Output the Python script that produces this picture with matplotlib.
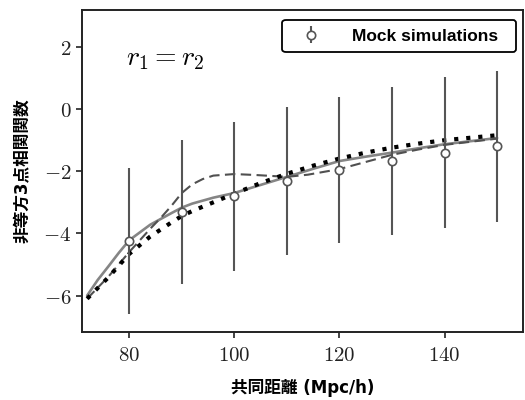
import matplotlib
matplotlib.use("Agg")
import matplotlib.pyplot as plt
from matplotlib.ticker import FuncFormatter, FixedLocator

plt.rcParams['mathtext.fontset'] = 'cm'

# Mock simulation data points
mock_x = [80, 90, 100, 110, 120, 130, 140, 150]
mock_y = [-4.24, -3.31, -2.80, -2.31, -1.96, -1.66, -1.40, -1.20]
mock_err = [2.34, 2.33, 2.40, 2.39, 2.35, 2.38, 2.42, 2.43]

# Model curves
curve_x = [72, 74, 76, 78, 80, 84, 88, 90, 92, 96, 100, 105, 110, 115, 120, 125, 130, 135, 140, 145, 150]
solid_y = [-6.0, -5.5, -5.07, -4.63, -4.22, -3.72, -3.35, -3.17, -3.04, -2.85, -2.70, -2.44, -2.18, -1.92, -1.67, -1.53, -1.40, -1.26, -1.13, -1.03, -0.93]
dot_y = [-6.1, -5.76, -5.42, -5.04, -4.66, -4.10, -3.65, -3.44, -3.28, -3.00, -2.72, -2.38, -2.08, -1.82, -1.59, -1.40, -1.24, -1.11, -1.00, -0.92, -0.84]

dash_x = [72, 76, 80, 84, 86, 88, 90, 92, 94, 96, 100, 104, 108, 110, 114, 120, 125, 130, 135, 140, 145, 150]
dash_y = [-6.1, -5.4, -4.6, -3.85, -3.5, -3.12, -2.7, -2.42, -2.25, -2.14, -2.09, -2.12, -2.16, -2.18, -2.11, -1.93, -1.70, -1.47, -1.30, -1.15, -1.05, -0.95]

xticks = [80, 100, 120, 140]
yticks = [-6, -4, -2, 0, 2]

label_fonts = ['DejaVu Sans', 'Noto Sans CJK JP']
legend_fonts = ['Liberation Sans', 'Noto Sans CJK JP']

fig = plt.figure(figsize=(5.25, 4.0), dpi=100)
ax = fig.add_axes([0.156, 0.171, 0.841, 0.804])

ax.plot(curve_x, solid_y, color='#858585', lw=1.9, solid_capstyle='round', zorder=2)
ax.plot(dash_x, dash_y, color='#505050', lw=1.5, linestyle=(0, (5, 2.6)), zorder=2)
ax.plot(curve_x, dot_y, color='black', lw=3.0, linestyle=(0, (1, 1.9)), dash_capstyle='butt', zorder=3)

ax.errorbar(mock_x, mock_y, yerr=mock_err, fmt='o', color='#555555', ecolor='#555555',
            elinewidth=1.5, capsize=0, markersize=6, markerfacecolor='white',
            markeredgecolor='#555555', markeredgewidth=1.2, zorder=4,
            label='Mock simulations')

ax.set_xlim(71, 155)
ax.set_ylim(-7.16, 3.19)
ax.xaxis.set_major_locator(FixedLocator(xticks))
ax.yaxis.set_major_locator(FixedLocator(yticks))
fmt = FuncFormatter(lambda v, p: r'$%d$' % v)
ax.xaxis.set_major_formatter(fmt)
ax.yaxis.set_major_formatter(fmt)
ax.tick_params(axis='both', labelsize=15, direction='out', length=4, width=1.2, colors='#222222')
ax.tick_params(axis='x', pad=6)
for s in ax.spines.values():
    s.set_linewidth(1.4)
    s.set_color('#222222')

ax.text(0.10, 0.85, r'$r_1 = r_2$', transform=ax.transAxes, fontsize=20, va='center', ha='left')

ax.set_xlabel('共同距離 (Mpc/h)', family=label_fonts, fontweight='bold', fontsize=12, labelpad=10)
ax.set_ylabel('非等方3点相関関数', family=label_fonts, fontweight='bold', fontsize=12, labelpad=8)

leg = ax.legend(loc='upper left', bbox_to_anchor=(0.4535, 0.0, 0.5306, 0.969), mode='expand',
                borderaxespad=0,
                prop={'family': legend_fonts, 'size': 12.5, 'weight': 'bold'},
                frameon=True, fancybox=True, handlelength=2.3, handletextpad=1.2,
                borderpad=0.5, framealpha=1)
leg.get_frame().set_edgecolor('black')
leg.get_frame().set_linewidth(1.3)

fig.savefig('out.png', dpi=100)
